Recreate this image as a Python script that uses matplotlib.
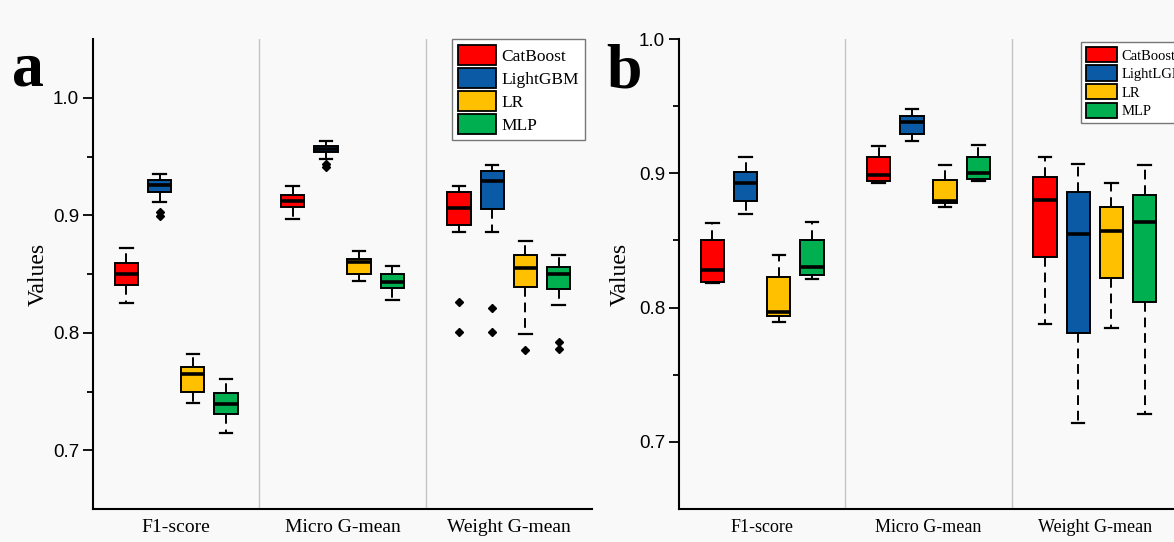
import matplotlib.pyplot as plt
from matplotlib.patches import Patch

metrics = ["F1-score", "Micro G-mean", "Weight G-mean"]
models_a = ["CatBoost", "LightGBM", "LR", "MLP"]
models_b = ["CatBoost", "LightLGM", "LR", "MLP"]
colors = ["#FF0000", "#0A5AA5", "#FFC000", "#00B050"]

# [low whisker, q1, median, q3, high whisker] for F1, Micro, Weight
a_catboost = [[0.825, 0.841, 0.850, 0.859, 0.872],
              [0.897, 0.907, 0.912, 0.917, 0.925],
              [0.886, 0.892, 0.906, 0.920, 0.925]]
a_lightgbm = [[0.911, 0.920, 0.926, 0.930, 0.935],
              [0.948, 0.954, 0.956, 0.959, 0.963],
              [0.886, 0.905, 0.929, 0.938, 0.943]]
a_lr = [[0.740, 0.750, 0.765, 0.771, 0.782],
        [0.844, 0.850, 0.860, 0.863, 0.870],
        [0.799, 0.839, 0.855, 0.866, 0.878]]
a_mlp = [[0.715, 0.731, 0.739, 0.749, 0.761],
         [0.828, 0.838, 0.843, 0.850, 0.857],
         [0.824, 0.837, 0.850, 0.856, 0.866]]
a_catboost_out = [[], [], [0.826, 0.801]]
a_lightgbm_out = [[0.903, 0.899], [0.944, 0.941], [0.821, 0.801]]
a_lr_out = [[], [], [0.785]]
a_mlp_out = [[], [], [0.792, 0.786]]

b_catboost = [[0.818, 0.819, 0.828, 0.850, 0.863],
              [0.893, 0.894, 0.899, 0.912, 0.920],
              [0.788, 0.838, 0.880, 0.897, 0.912]]
b_lightgbm = [[0.870, 0.879, 0.893, 0.901, 0.912],
              [0.924, 0.929, 0.938, 0.943, 0.948],
              [0.714, 0.781, 0.855, 0.886, 0.907]]
b_lr = [[0.789, 0.794, 0.797, 0.823, 0.839],
        [0.875, 0.878, 0.879, 0.895, 0.906],
        [0.785, 0.822, 0.857, 0.875, 0.893]]
b_mlp = [[0.821, 0.824, 0.830, 0.850, 0.864],
         [0.894, 0.896, 0.900, 0.912, 0.921],
         [0.721, 0.804, 0.864, 0.884, 0.906]]

plt.rcParams['font.family'] = ['Liberation Serif', 'DejaVu Serif']

BG = '#f9f9f9'
fig = plt.figure(figsize=(11.74, 5.42), dpi=100, facecolor=BG)


def draw_panel(ax, series, fliers, names, ylim, lab_size, leg_size, leg_box, leg_hl, ypad):
    ax.set_facecolor(BG)
    offsets = [-0.3, -0.1, 0.1, 0.3]
    for k, summ in enumerate(series):
        stats = []
        for m in range(len(metrics)):
            lo, q1, med, q3, hi = summ[m]
            stats.append(dict(whislo=lo, q1=q1, med=med, q3=q3, whishi=hi,
                              fliers=fliers[k][m] if fliers else []))
        pos = [m + 0.5 + offsets[k] for m in range(len(metrics))]
        ax.bxp(stats, positions=pos, widths=0.14, capwidths=0.075,
               patch_artist=True, showfliers=True,
               boxprops=dict(facecolor=colors[k], edgecolor='black', linewidth=1.4),
               whiskerprops=dict(color='black', linewidth=1.4, linestyle=(0, (5, 3))),
               capprops=dict(color='black', linewidth=1.6),
               medianprops=dict(color='black', linewidth=2.6),
               flierprops=dict(marker='D', markerfacecolor='black',
                               markeredgecolor='black', markersize=4.5))
    for x in (1, 2):
        ax.axvline(x, color='#c4c4c4', linewidth=1.0, zorder=0)
    ax.set_xlim(0, 3)
    ax.set_ylim(*ylim)
    ax.set_xticks([0.5, 1.5, 2.5])
    ax.set_xticklabels(metrics, fontsize=lab_size)
    ax.tick_params(axis='x', length=0, pad=7)
    ax.set_yticks([0.7, 0.8, 0.9, 1.0])
    ax.set_yticks([0.75, 0.85, 0.95], minor=True)
    ax.tick_params(axis='y', which='major', length=7, width=1.3, labelsize=13.5, pad=3)
    ax.tick_params(axis='y', which='minor', length=4, width=1.3)
    for t in ax.get_yticklabels():
        t.set_family('Liberation Sans')
    ax.spines['top'].set_visible(False)
    ax.spines['right'].set_visible(False)
    ax.spines['left'].set_linewidth(1.5)
    ax.spines['bottom'].set_linewidth(1.5)
    ax.set_ylabel('Values', fontsize=17, labelpad=ypad)
    handles = [Patch(facecolor=c, edgecolor='black', linewidth=1.3) for c in colors]
    leg = ax.legend(handles, names, loc='upper left', bbox_to_anchor=leg_box,
                    fontsize=leg_size, handlelength=leg_hl[0], handleheight=leg_hl[1],
                    labelspacing=0.2, handletextpad=0.3, borderpad=0.35,
                    borderaxespad=0, fancybox=False, framealpha=1)
    leg.get_frame().set_edgecolor('#777777')
    leg.get_frame().set_linewidth(1.0)
    return ax


ax_a = fig.add_axes([93 / 1174, 1 - 509 / 542, 499 / 1174, 470 / 542])
draw_panel(ax_a, [a_catboost, a_lightgbm, a_lr, a_mlp],
           [a_catboost_out, a_lightgbm_out, a_lr_out, a_mlp_out],
           models_a, (0.65, 1.05), 14, 12.5, (0.719, 1.0), (2.2, 1.35), 3)

ax_b = fig.add_axes([679 / 1174, 1 - 509 / 542, 499 / 1174, 470 / 542])
draw_panel(ax_b, [b_catboost, b_lightgbm, b_lr, b_mlp], None,
           models_b, (0.65, 1.0), 13, 10.5, (0.806, 0.994), (2.1, 1.25), 6)

fig.text(12 / 1174, 1 - 86 / 542, 'a', fontsize=46, fontweight='bold', ha='left', va='baseline')
fig.text(606 / 1174, 1 - 88 / 542, 'b', fontsize=46, fontweight='bold', ha='left', va='baseline')

fig.savefig('out.png', dpi=100, facecolor=BG)
